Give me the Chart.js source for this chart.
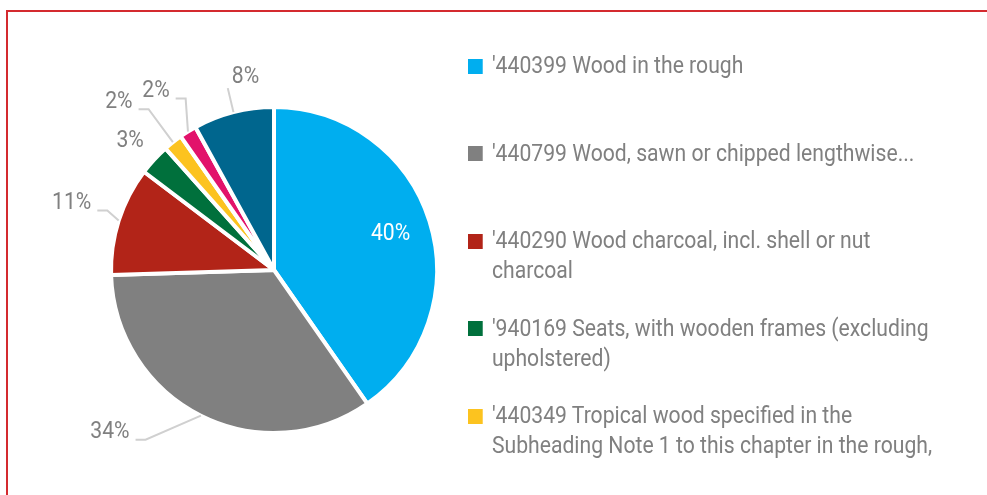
<!DOCTYPE html>
<html>
<head>
<meta charset="utf-8">
<script src="https://cdn.jsdelivr.net/npm/chart.js@4.4.0/dist/chart.umd.min.js"></script>
<style>
  html, body { margin: 0; padding: 0; width: 987px; height: 495px; overflow: hidden; background: #fff; }
  .frame { position: absolute; left: 6px; top: 10px; width: 1100px; height: 600px; border: 2px solid #d42a2f; }
  #pieWrap { position: absolute; left: 0; top: 0; width: 548px; height: 495px; }
  #legend { position: absolute; left: 468px; top: 51px; width: 560px; height: 420px; overflow: hidden;
    font-family: Roboto, sans-serif; font-size: 23px; line-height: 30px; color: #808080;
    transform: scaleX(0.92); transform-origin: 0 0; }
  .item { position: relative; height: 87.5px; padding-left: 26px; width: 487px; }
  .box { position: absolute; left: 0; top: 7.5px; width: 16px; height: 15px; }
</style>
</head>
<body>
<div class="frame"></div>
<div id="pieWrap"><canvas id="pie"></canvas></div>
<div id="legend"></div>
<script>
// products (HS code + description), in drawing order clockwise from 12 o'clock
const products = [
  "'440399 Wood in the rough",
  "'440799 Wood, sawn or chipped lengthwise...",
  "'440290 Wood charcoal, incl. shell or nut charcoal",
  "'940169 Seats, with wooden frames (excluding upholstered)",
  "'440349 Tropical wood specified in the Subheading Note 1 to this chapter in the rough,",
  "'441899 Builders' joinery and carpentry, of wood",
  "Other products"
];
// share of exports, %
const shares = [40.3, 34.2, 10.8, 3.1, 1.9, 1.7, 8.0];

const sliceColors = ['#00aeef', '#808080', '#b22418', '#00703c', '#fcc31f', '#e2126b', '#00668e'];

// label placement, relative to the point on the rim at the slice middle
const labelStyle = [
  { inside: true },
  { dx: -91, dy: 17, leader: 'right' },
  { dx: -47, dy: -17, leader: 'right' },
  { dx: -24, dy: -18, leader: 'none' },
  { dx: -54, dy: -40, leader: 'right' },
  { dx: -32, dy: -40, leader: 'right' },
  { dx: 12, dy: -35, leader: 'below' }
];

const labelFont = "23px Roboto, sans-serif";
const narrow = 0.92;

const sliceLabels = {
  id: 'sliceLabels',
  afterDatasetsDraw(chart) {
    const ctx = chart.ctx;
    const meta = chart.getDatasetMeta(0);
    const values = chart.data.datasets[0].data;
    const total = values.reduce((a, b) => a + b, 0);
    ctx.save();
    ctx.font = labelFont;
    ctx.textBaseline = 'middle';
    ctx.textAlign = 'center';
    const drawText = (text, x, y, color) => {
      ctx.save();
      ctx.translate(x, y);
      ctx.scale(narrow, 1);
      ctx.fillStyle = color;
      ctx.fillText(text, 0, 0);
      ctx.restore();
    };
    meta.data.forEach((arc, i) => {
      const text = Math.round(values[i] / total * 100) + '%';
      const mid = (arc.startAngle + arc.endAngle) / 2;
      const r = arc.outerRadius;
      const st = labelStyle[i];
      if (st.inside) {
        drawText(text, arc.x + Math.cos(mid) * r * 0.75, arc.y + Math.sin(mid) * r * 0.73, '#ffffff');
        return;
      }
      const ex = arc.x + Math.cos(mid) * r;
      const ey = arc.y + Math.sin(mid) * r;
      const cx = ex + st.dx;
      const cy = ey + st.dy;
      const w = ctx.measureText(text).width * narrow;
      ctx.strokeStyle = '#d0d0d0';
      ctx.lineWidth = 2;
      if (st.leader === 'right') {
        const sx = cx + w / 2 + 6;
        ctx.beginPath();
        ctx.moveTo(sx, cy + 7);
        ctx.lineTo(sx + 10, cy + 7);
        ctx.lineTo(ex, ey);
        ctx.stroke();
      } else if (st.leader === 'below') {
        ctx.beginPath();
        ctx.moveTo(cx - w / 2 - 4, cy + 11);
        ctx.lineTo(ex, ey);
        ctx.stroke();
      }
      drawText(text, cx, cy, '#808080');
    });
    ctx.restore();
  }
};

new Chart(document.getElementById('pie'), {
  type: 'pie',
  data: {
    labels: products,
    datasets: [{
      data: shares,
      backgroundColor: sliceColors,
      borderColor: '#ffffff',
      borderWidth: 4,
      hoverOffset: 0
    }]
  },
  options: {
    responsive: true,
    maintainAspectRatio: false,
    animation: false,
    layout: { padding: { left: 109, right: 109, top: 105, bottom: 60 } },
    plugins: {
      legend: { display: false },
      tooltip: { enabled: false }
    }
  },
  plugins: [sliceLabels]
});

// legend on the right, one fixed-height slot per product
const legend = document.getElementById('legend');
products.forEach((name, i) => {
  const item = document.createElement('div');
  item.className = 'item';
  const box = document.createElement('div');
  box.className = 'box';
  box.style.background = sliceColors[i];
  item.appendChild(box);
  item.appendChild(document.createTextNode(name));
  legend.appendChild(item);
});
</script>
</body>
</html>
